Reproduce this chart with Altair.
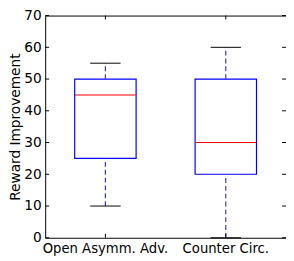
import altair as alt
import pandas as pd

categories = ["Open Asymm. Adv.", "Counter Circ."]
whisker_low = [10, 0]
q1 = [25, 20]
median = [45, 30]
q3 = [50, 50]
whisker_high = [55, 60]
y_ticks = [0, 10, 20, 30, 40, 50, 60, 70]

df = pd.DataFrame({
    "cat": categories,
    "lo": whisker_low,
    "q1": q1,
    "med": median,
    "q3": q3,
    "hi": whisker_high,
})
ticks_df = pd.DataFrame({"v": y_ticks})

W, H = 246, 227
FONT = "DejaVu Sans"

xscale = alt.Scale(domain=categories, paddingInner=0.49, paddingOuter=0.245)
yscale = alt.Scale(domain=[0, 70], nice=False, zero=False)

x_axis = alt.Axis(title=None, labelAngle=0, ticks=False, domain=False,
                  labelFontSize=13.5, labelFont=FONT, labelColor="black",
                  labelPadding=4, labelOverlap=False)
y_axis = alt.Axis(title="Reward Improvement", values=y_ticks, ticks=False,
                  domain=False, grid=False, labelFontSize=14, labelFont=FONT,
                  labelColor="black", labelPadding=4, labelOverlap=False,
                  titleFontSize=14, titleFont=FONT, titleFontWeight="normal",
                  titleColor="black", titlePadding=1)


def xq():
    return alt.X("cat:N", scale=xscale, sort=categories, axis=x_axis)


def yq(field):
    return alt.Y(field, scale=yscale, axis=y_axis, title="Reward Improvement")


base = alt.Chart(df)

box = base.mark_bar(fill="white", stroke="#0000ff", strokeWidth=1.2, opacity=1).encode(
    x=xq(), y=yq("q1:Q"), y2="q3:Q")

whisk_lo = base.mark_rule(color="#3333ff", strokeDash=[5, 3], strokeWidth=1.2).encode(
    x=xq(), y=yq("lo:Q"), y2="q1:Q")
whisk_hi = base.mark_rule(color="#3333ff", strokeDash=[5, 3], strokeWidth=1.2).encode(
    x=xq(), y=yq("q3:Q"), y2="hi:Q")

cap_lo = base.mark_tick(color="black", size=31, thickness=1, opacity=1).encode(
    x=xq(), y=yq("lo:Q"))
cap_hi = base.mark_tick(color="black", size=31, thickness=1, opacity=1).encode(
    x=xq(), y=yq("hi:Q"))
med = base.mark_tick(color="#ff0000", size=62, thickness=1, opacity=1).encode(
    x=xq(), y=yq("med:Q"))

tc = alt.Chart(ticks_df)
ytick_l = tc.mark_rule(color="black", strokeWidth=1).encode(
    y=yq("v:Q"), x=alt.value(0), x2=alt.value(4))
ytick_r = tc.mark_rule(color="black", strokeWidth=1).encode(
    y=yq("v:Q"), x=alt.value(W - 4), x2=alt.value(W))
xtick_b = base.mark_rule(color="black", strokeWidth=1).encode(
    x=xq(), y=alt.value(H - 4), y2=alt.value(H))
xtick_t = base.mark_rule(color="black", strokeWidth=1).encode(
    x=xq(), y=alt.value(0), y2=alt.value(4))

chart = alt.layer(
    box, whisk_lo, whisk_hi, cap_lo, cap_hi, med,
    ytick_l, ytick_r, xtick_b, xtick_t
).properties(
    width=W, height=H,
    autosize=alt.AutoSizeParams(type="none"),
    padding={"left": 38, "top": 5, "right": 0, "bottom": 21},
).configure_view(
    stroke="black", strokeWidth=1
).configure_axis(grid=False)

chart.save("out.html", embed_options={"renderer": "svg", "actions": False})
